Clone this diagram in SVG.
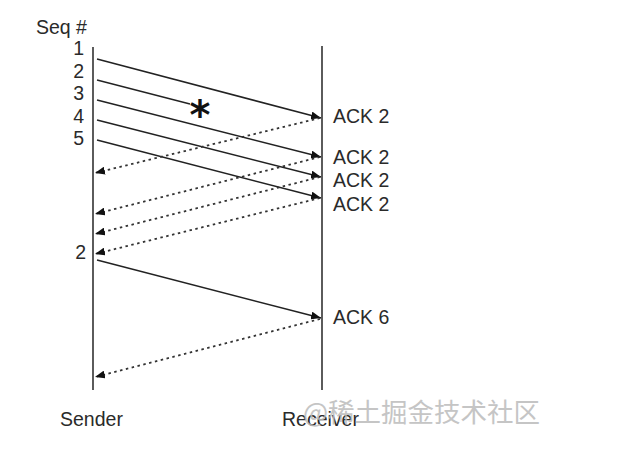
<svg xmlns="http://www.w3.org/2000/svg" width="642" height="457" viewBox="0 0 642 457">
<style>
text{font-family:"Liberation Sans",Arial,sans-serif;fill:#2a2a2a;font-size:19.5px}
.life{stroke:#333;stroke-width:1.6;fill:none}
.msg{stroke:#222;stroke-width:1.5;fill:none}
.ack{stroke:#333;stroke-width:1.8;fill:none;stroke-dasharray:2.5 3.5}
.wm{font-family:"Noto Sans CJK SC","Liberation Sans",sans-serif;fill:#bbb;font-size:26.5px;opacity:.85}
</style>
<defs>
<marker id="ah" viewBox="0 0 10 8" refX="10" refY="4" markerWidth="10" markerHeight="8" markerUnits="userSpaceOnUse" orient="auto">
<path d="M0,0 L10,4 L0,8 Z" fill="#111"/>
</marker>
</defs>
<rect width="642" height="457" fill="#fff"/>
<g id="sender">
<line class="life" x1="93" y1="47" x2="93" y2="390"/>
<text x="60" y="426">Sender</text>
</g>
<g id="receiver">
<line class="life" x1="322" y1="46" x2="322" y2="390"/>
<text x="282" y="426">Receiver</text>
</g>
<g id="labels">
<text x="36" y="34">Seq #</text>
<text x="84" y="55" text-anchor="end">1</text>
<text x="84" y="78" text-anchor="end">2</text>
<text x="84" y="100" text-anchor="end">3</text>
<text x="84" y="123" text-anchor="end">4</text>
<text x="84" y="145" text-anchor="end">5</text>
<text x="86" y="259" text-anchor="end">2</text>
<text x="333" y="123">ACK 2</text>
<text x="333" y="164">ACK 2</text>
<text x="333" y="187">ACK 2</text>
<text x="333" y="211">ACK 2</text>
<text x="333" y="324">ACK 6</text>
</g>
<g id="loss">
<text x="200" y="129" text-anchor="middle" style="font-family:'DejaVu Sans',sans-serif;font-size:40px;font-weight:bold;fill:#111">*</text>
</g>
<g id="connectors">
<line class="msg" x1="97" y1="59" x2="321" y2="118" marker-end="url(#ah)"/>
<line class="msg" x1="97" y1="80" x2="190" y2="104"/>
<line class="msg" x1="97" y1="100" x2="321" y2="157" marker-end="url(#ah)"/>
<line class="msg" x1="97" y1="120" x2="321" y2="177" marker-end="url(#ah)"/>
<line class="msg" x1="97" y1="140" x2="321" y2="198" marker-end="url(#ah)"/>
<line class="msg" x1="97" y1="260" x2="321" y2="318" marker-end="url(#ah)"/>
<line class="ack" x1="320" y1="118" x2="95" y2="173" marker-end="url(#ah)"/>
<line class="ack" x1="320" y1="157" x2="95" y2="214" marker-end="url(#ah)"/>
<line class="ack" x1="320" y1="177" x2="95" y2="234" marker-end="url(#ah)"/>
<line class="ack" x1="320" y1="198" x2="95" y2="254" marker-end="url(#ah)"/>
<line class="ack" x1="320" y1="319" x2="95" y2="377" marker-end="url(#ah)"/>
</g>
<text class="wm" x="303" y="422">@稀土掘金技术社区</text>
</svg>
